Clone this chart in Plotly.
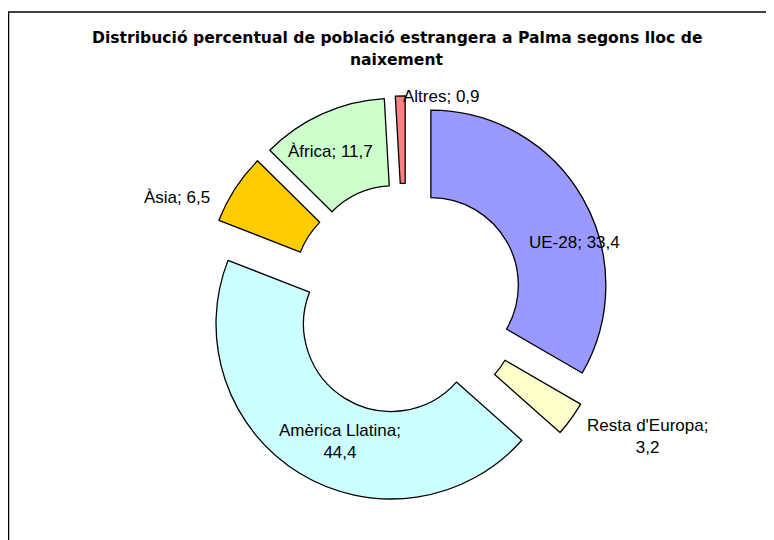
import plotly.graph_objects as go

# ---- data ----
categories = ["UE-28", "Resta d'Europa", "Amèrica Llatina", "Àsia", "Àfrica", "Altres"]
values = [33.4, 3.2, 44.4, 6.5, 11.7, 0.9]
label_text = ["UE-28; 33,4", "Resta d'Europa;<br>3,2", "Amèrica Llatina;<br>44,4",
              "Àsia; 6,5", "Àfrica; 11,7", "Altres; 0,9"]
title_lines = ["Distribució percentual de població estrangera a Palma segons lloc de",
               "naixement"]

# ---- style ----
W, H = 774, 540
OFF = 8  # page body margin of the exported html
colors = ["#9999FF", "#FFFFCC", "#CCFFFF", "#FFCC00", "#CCFFCC", "#FF8080"]
# label anchor positions in page pixels (centre of text block)
label_px = [(574, 243), (647, 436), (340, 441), (177, 197), (330, 152), (442, 96)]
title_px = [(397, 38), (397, 60)]
FONT = "Liberation Sans, Arial, sans-serif"


def px_x(x):
    return (x - OFF) / W


def px_y(y):
    return 1 - (y - OFF) / H


fig = go.Figure()
fig.add_trace(go.Pie(
    labels=categories,
    values=values,
    sort=False,
    direction="clockwise",
    rotation=0,
    hole=0.5,
    pull=[0.164] * len(values),
    marker=dict(colors=colors, line=dict(color="black", width=1.3)),
    textinfo="none",
    showlegend=False,
    domain=dict(x=[0.2510, 0.7774], y=[0.0830, 0.8374]),
))

for txt, (px, py) in zip(label_text, label_px):
    fig.add_annotation(
        x=px_x(px), y=px_y(py), xref="paper", yref="paper",
        text=txt, showarrow=False, xanchor="center", yanchor="middle",
        align="center", font=dict(family=FONT, size=17, color="black"),
    )

for line, (px, py) in zip(title_lines, title_px):
    fig.add_annotation(
        x=px_x(px), y=px_y(py), xref="paper", yref="paper",
        text="<b>" + line + "</b>", showarrow=False,
        xanchor="center", yanchor="middle", align="center",
        font=dict(family="DejaVu Sans, sans-serif", size=15.6, color="black"),
    )

# chart-area frame (top and left edges visible)
fig.add_shape(type="rect", xref="paper", yref="paper",
              x0=0.6 / W, x1=1.02, y0=-0.02, y1=px_y(12),
              line=dict(color="black", width=1.3), fillcolor="rgba(0,0,0,0)")

fig.update_layout(
    width=W, height=H,
    margin=dict(l=0, r=0, t=0, b=0),
    paper_bgcolor="white", plot_bgcolor="white",
    font=dict(family=FONT),
    separators=",.",
)

fig.write_html("out.html")
